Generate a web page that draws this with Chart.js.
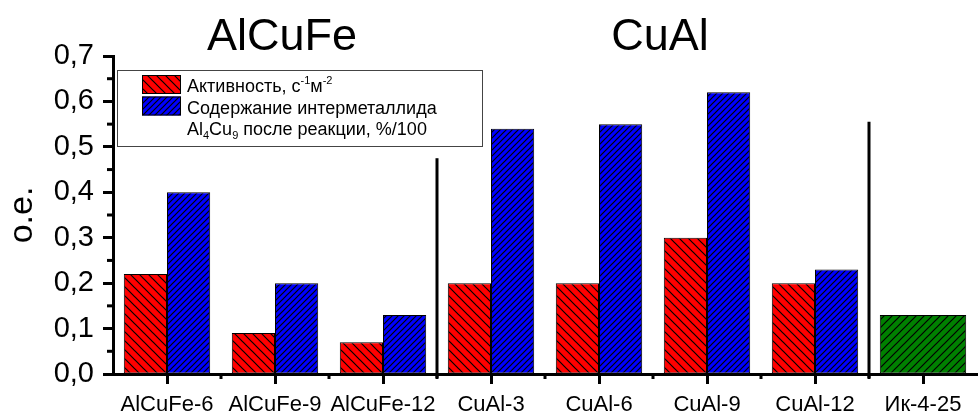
<!DOCTYPE html>
<html>
<head>
<meta charset="utf-8">
<script src="https://cdn.jsdelivr.net/npm/chart.js@4.4.0/dist/chart.umd.min.js"></script>
<style>
  html, body { margin: 0; padding: 0; background: #fff; }
  #wrap { width: 978px; height: 415px; }
</style>
</head>
<body>
<div id="wrap"><canvas id="chart"></canvas></div>
<script>
// Chart data
const categories = ['AlCuFe-6', 'AlCuFe-9', 'AlCuFe-12', 'CuAl-3', 'CuAl-6', 'CuAl-9', 'CuAl-12', 'Ик-4-25'];
const activity = [0.22, 0.09, 0.07, 0.20, 0.20, 0.30, 0.20, null];
const intermetallic = [0.40, 0.20, 0.13, 0.54, 0.55, 0.62, 0.23, null];
const reference = [null, null, null, null, null, null, null, 0.13];
const yTicks = [0, 0.1, 0.2, 0.3, 0.4, 0.5, 0.6, 0.7];
const yMinorTicks = [0.05, 0.15, 0.25, 0.35, 0.45, 0.55, 0.65];

// Group headings and separator lines (index of last category in group, top value of line)
const groupTitles = [
    { text: 'AlCuFe', from: 0, to: 2 },
    { text: 'CuAl', from: 3, to: 6 }
];
const separators = [
    { after: 2, top: 0.475 },
    { after: 6, top: 0.555 }
];

// Legend lines: [text, 'sup' | 'sub' | '']
const legendLines = [
    { swatch: 0, parts: [['Активность, с', ''], ['-1', 'sup'], ['м', ''], ['-2', 'sup']] },
    { swatch: 1, parts: [['Содержание интерметаллида', '']] },
    { swatch: null, parts: [['Al', ''], ['4', 'sub'], ['Cu', ''], ['9', 'sub'], [' после реакции, %/100', '']] }
];

const FONT = "'Liberation Sans', Arial, sans-serif";
const canvas = document.getElementById('chart');
const ctx = canvas.getContext('2d');

// Build a hatched fill pattern
function hatch(bg, size, dir) {
    const c = document.createElement('canvas');
    c.width = size;
    c.height = size;
    const g = c.getContext('2d');
    g.fillStyle = bg;
    g.fillRect(0, 0, size, size);
    g.strokeStyle = '#000';
    g.lineWidth = 1.2;
    g.beginPath();
    if (dir === '/') {
        g.moveTo(0, size); g.lineTo(size, 0);
        g.moveTo(-2, 2); g.lineTo(2, -2);
        g.moveTo(size - 2, size + 2); g.lineTo(size + 2, size - 2);
    } else {
        g.moveTo(0, 0); g.lineTo(size, size);
        g.moveTo(size - 2, -2); g.lineTo(size + 2, 2);
        g.moveTo(-2, size - 2); g.lineTo(2, size + 2);
    }
    g.stroke();
    return ctx.createPattern(c, 'repeat');
}

const redFill = hatch('#ff0000', 9, '\\');
const blueFill = hatch('#0000ff', 6, '/');
const greenFill = hatch('#008000', 8, '/');

// Extra drawing: minor ticks, separators, titles, legend
const extras = {
    id: 'extras',
    afterDraw(chart) {
        const c = chart.ctx;
        const xs = chart.scales.x;
        const ys = chart.scales.y;
        const area = chart.chartArea;
        c.save();
        c.strokeStyle = '#000';
        c.lineWidth = 3;

        // minor y ticks
        yMinorTicks.forEach(v => {
            const y = ys.getPixelForValue(v);
            c.beginPath();
            c.moveTo(area.left - 6, y);
            c.lineTo(area.left, y);
            c.stroke();
        });

        // minor x ticks
        for (let i = 0; i < categories.length - 1; i++) {
            const x = (xs.getPixelForValue(i) + xs.getPixelForValue(i + 1)) / 2;
            c.beginPath();
            c.moveTo(x, area.bottom);
            c.lineTo(x, area.bottom + 5);
            c.stroke();
        }

        // separators
        separators.forEach(s => {
            const x = (xs.getPixelForValue(s.after) + xs.getPixelForValue(s.after + 1)) / 2;
            c.beginPath();
            c.moveTo(x, ys.getPixelForValue(s.top));
            c.lineTo(x, area.bottom + 4);
            c.stroke();
        });

        // group titles
        c.fillStyle = '#000';
        c.font = '45px ' + FONT;
        c.textAlign = 'center';
        c.textBaseline = 'alphabetic';
        groupTitles.forEach(g => {
            const x = (xs.getPixelForValue(g.from) + xs.getPixelForValue(g.to)) / 2 + 7;
            c.fillText(g.text, x, 50);
        });

        // legend box
        const bx = area.left + 4, by = 70, bw = 365, bh = 76;
        c.fillStyle = '#fff';
        c.fillRect(bx, by, bw, bh);
        c.lineWidth = 1;
        c.strokeStyle = '#444';
        c.strokeRect(bx + 0.5, by + 0.5, bw, bh);

        const fills = chart.data.datasets.map(d => d.backgroundColor);
        c.textAlign = 'left';
        legendLines.forEach((line, i) => {
            const base = by + 22 + i * 21.5;
            if (line.swatch !== null) {
                c.fillStyle = fills[line.swatch];
                c.fillRect(bx + 25, base - 17, 39, 19);
                c.strokeStyle = '#000';
                c.strokeRect(bx + 25.5, base - 16.5, 38, 18);
            }
            let x = bx + 70;
            c.fillStyle = '#000';
            line.parts.forEach(([t, kind]) => {
                if (kind === 'sup') {
                    c.font = '11px ' + FONT;
                    c.fillText(t, x, base - 8);
                } else if (kind === 'sub') {
                    c.font = '11px ' + FONT;
                    c.fillText(t, x, base + 4);
                } else {
                    c.font = '18px ' + FONT;
                    c.fillText(t, x, base);
                }
                x += c.measureText(t).width;
            });
        });
        c.restore();
    }
};

new Chart(ctx, {
    type: 'bar',
    data: {
        labels: categories,
        datasets: [
            { label: 'Активность, с-1м-2', data: activity, backgroundColor: redFill },
            { label: 'Содержание интерметаллида Al4Cu9 после реакции, %/100', data: intermetallic, backgroundColor: blueFill },
            { label: 'Ик-4-25', data: reference, backgroundColor: greenFill }
        ]
    },
    options: {
        responsive: true,
        maintainAspectRatio: false,
        animation: false,
        layout: { padding: { top: 56, left: 0, right: 1, bottom: 0 } },
        datasets: {
            bar: {
                skipNull: true,
                borderColor: '#000',
                borderWidth: 1,
                borderSkipped: false,
                categoryPercentage: 0.8,
                barPercentage: 1
            }
        },
        plugins: {
            legend: { display: false },
            tooltip: { enabled: false }
        },
        scales: {
            x: {
                offset: true,
                grid: {
                    offset: false,
                    drawOnChartArea: false,
                    tickLength: 10,
                    tickWidth: 3,
                    tickColor: '#000'
                },
                border: { color: '#000', width: 3 },
                ticks: {
                    color: '#000',
                    font: { family: FONT, size: 22 },
                    padding: 8,
                    maxRotation: 0,
                    autoSkip: false
                },
                afterFit(scale) { scale.height = 41; }
            },
            y: {
                min: 0,
                max: 0.7,
                afterBuildTicks(scale) { scale.ticks = yTicks.map(v => ({ value: v })); },
                grid: {
                    drawOnChartArea: false,
                    tickLength: 10,
                    tickWidth: 3,
                    tickColor: '#000'
                },
                border: { color: '#000', width: 3 },
                ticks: {
                    color: '#000',
                    font: { family: FONT, size: 29 },
                    padding: 9,
                    callback: v => v.toFixed(1).replace('.', ',')
                },
                title: {
                    display: true,
                    text: 'о.е.',
                    color: '#000',
                    font: { family: FONT, size: 34 },
                    padding: 2
                },
                afterFit(scale) { scale.width = 113; }
            }
        }
    },
    plugins: [extras]
});
</script>
</body>
</html>
